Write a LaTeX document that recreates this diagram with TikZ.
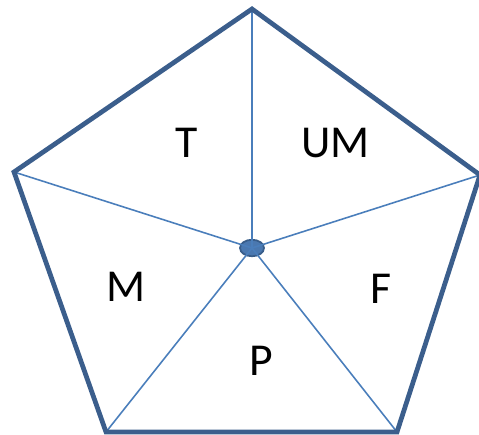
\documentclass[tikz,border=0pt]{standalone}
\usepackage{fontspec}
\setmainfont{Carlito}
\usetikzlibrary{shapes.geometric}
\definecolor{rim}{HTML}{3B5E8C}
\definecolor{spoke}{HTML}{4A7EBB}
\definecolor{hub}{HTML}{4A78B0}
\definecolor{hubline}{HTML}{385D8A}

\begin{document}
\begin{tikzpicture}[x=0.02cm,y=-0.02cm,
    hubdot/.style={ellipse,fill=hub,draw=hubline,line width=1pt,minimum width=0.48cm,minimum height=0.33cm,inner sep=0pt},
    lbl/.style={font=\fontsize{26}{30}\selectfont,inner sep=0pt}]
  \useasboundingbox (0,0) rectangle (479,435);
  % pentagon corners
  \coordinate (top) at (252,9);
  \coordinate (rt) at (480,175);
  \coordinate (br) at (397,432);
  \coordinate (bl) at (106,432);
  \coordinate (lt) at (14,172);
  \node[hubdot] (hub) at (252,248) {};
  % spokes from the hub to every corner
  \foreach \v in {top,rt,br,bl,lt}
    \draw[spoke,line width=0.9pt] (hub.center)--(\v);
  % outline
  \draw[rim,line width=2.7pt,line join=miter] (top)--(rt)--(br)--(bl)--(lt)--cycle;
  % sector labels
  \node[lbl] (t) at (186.5,143) {T};
  \node[lbl] (um) at (335.5,143) {UM};
  \node[lbl] (m) at (126,287) {M};
  \node[lbl] (f) at (381,289) {F};
  \node[lbl] (p) at (261,361) {P};
\end{tikzpicture}
\end{document}
